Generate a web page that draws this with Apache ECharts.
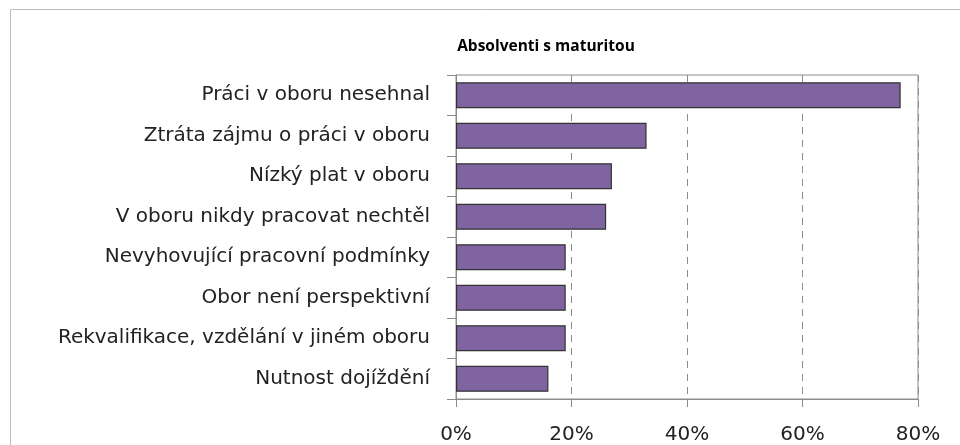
<!DOCTYPE html>
<html>
<head>
<meta charset="utf-8">
<script src="https://cdn.jsdelivr.net/npm/echarts@6/dist/echarts.min.js"></script>
<style>html,body{margin:0;padding:0;background:#fff}#c{width:960px;height:445px}</style>
</head>
<body>
<div id="c"></div>
<script>
const title = 'Absolventi s maturitou';
const categories = [
  'Práci v oboru nesehnal',
  'Ztráta zájmu o práci v oboru',
  'Nízký plat v oboru',
  'V oboru nikdy pracovat nechtěl',
  'Nevyhovující pracovní podmínky',
  'Obor není perspektivní',
  'Rekvalifikace, vzdělání v jiném oboru',
  'Nutnost dojíždění'
];
const values = [77, 33, 27, 26, 19, 19, 19, 16];
const axisMin = 0, axisMax = 80, axisStep = 20;

const chart = echarts.init(document.getElementById('c'), null, {renderer: 'canvas'});
chart.setOption({
  animation: false,
  backgroundColor: '#fff',
  graphic: [{
    type: 'rect', silent: true,
    shape: {x: 10.5, y: 9.5, width: 1000, height: 600},
    style: {fill: 'none', stroke: '#bdbdbd', lineWidth: 1}
  }],
  title: {
    text: title, left: 541, top: 34, textAlign: 'center',
    textStyle: {fontFamily: 'Open Sans', fontSize: 15.5, fontWeight: 'bold', color: '#000'}
  },
  grid: {left: 456, right: 42, top: 75, bottom: 45, show: true, borderColor: '#8c8c8c', borderWidth: 1},
  xAxis: {
    type: 'value', min: axisMin, max: axisMax, interval: axisStep,
    axisLine: {show: true, lineStyle: {color: '#8c8c8c'}},
    axisTick: {show: true, length: 8, lineStyle: {color: '#8c8c8c'}},
    axisLabel: {formatter: '{value}%', margin: 26, fontFamily: 'DejaVu Sans', fontSize: 20, color: '#222'},
    splitLine: {show: true, lineStyle: {color: '#8c8c8c', type: [7, 6]}}
  },
  yAxis: {
    type: 'category', data: categories, inverse: true,
    axisLine: {show: true, lineStyle: {color: '#8c8c8c'}},
    axisTick: {show: true, length: 9, lineStyle: {color: '#8c8c8c'}},
    axisLabel: {margin: 26, fontFamily: 'DejaVu Sans', fontSize: 20, color: '#222'}
  },
  series: [{
    type: 'bar', data: values, barWidth: 26,
    itemStyle: {color: '#8064A2', borderColor: '#333', borderWidth: 1.2}
  }]
});
</script>
</body>
</html>
